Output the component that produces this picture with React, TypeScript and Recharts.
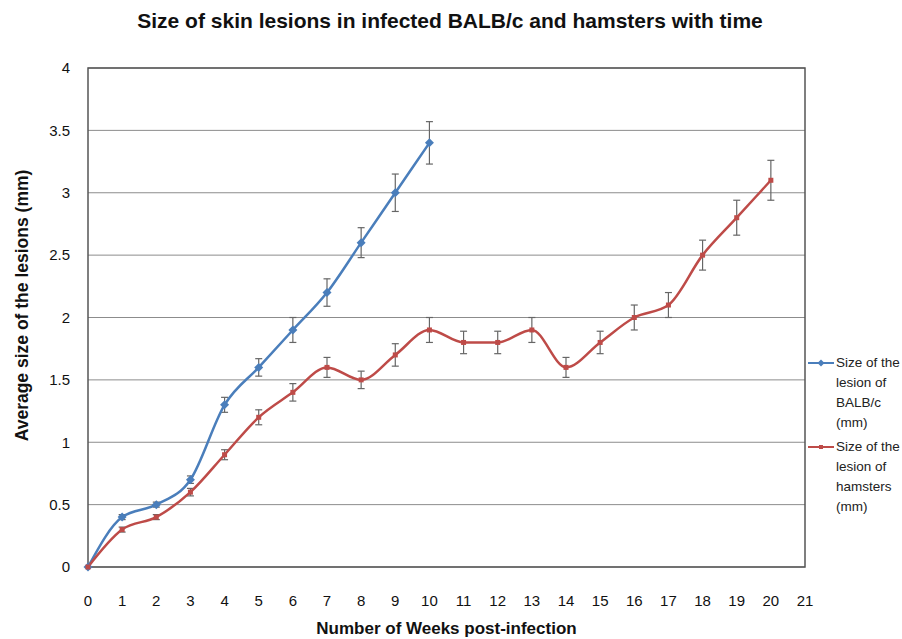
import {
  LineChart,
  Line,
  XAxis,
  YAxis,
  CartesianGrid,
  ErrorBar,
  Legend,
  ReferenceArea,
  Label,
} from "recharts";

const WEEKS = [0, 1, 2, 3, 4, 5, 6, 7, 8, 9, 10, 11, 12, 13, 14, 15, 16, 17, 18, 19, 20];
const BALB = [0, 0.4, 0.5, 0.7, 1.3, 1.6, 1.9, 2.2, 2.6, 3.0, 3.4];
const BALB_ERR = [0, 0.02, 0.02, 0.03, 0.06, 0.07, 0.1, 0.11, 0.12, 0.15, 0.17];
const HAMSTER = [0, 0.3, 0.4, 0.6, 0.9, 1.2, 1.4, 1.6, 1.5, 1.7, 1.9, 1.8, 1.8, 1.9, 1.6, 1.8, 2.0, 2.1, 2.5, 2.8, 3.1];
const HAMSTER_ERR = [0, 0.02, 0.02, 0.03, 0.04, 0.06, 0.07, 0.08, 0.07, 0.09, 0.1, 0.09, 0.09, 0.1, 0.08, 0.09, 0.1, 0.1, 0.12, 0.14, 0.16];
const X_TICKS = [0, 1, 2, 3, 4, 5, 6, 7, 8, 9, 10, 11, 12, 13, 14, 15, 16, 17, 18, 19, 20, 21];
const Y_TICKS = [0, 0.5, 1, 1.5, 2, 2.5, 3, 3.5, 4];

const BLUE = "#4a7ebb";
const RED = "#be4b48";
const FONT = "'Liberation Sans', Arial, sans-serif";

const SERIES = [
  { key: "balb", name: "Size of the lesion of BALB/c (mm)", color: BLUE, shape: "diamond" },
  { key: "hamster", name: "Size of the lesion of hamsters (mm)", color: RED, shape: "square" },
];

const data = WEEKS.map((w, i) => ({
  week: w,
  balb: i < BALB.length ? BALB[i] : null,
  balbErr: i < BALB_ERR.length ? BALB_ERR[i] : null,
  hamster: HAMSTER[i],
  hamsterErr: HAMSTER_ERR[i],
}));

function Diamond(props: any) {
  const { cx, cy } = props;
  const r = 4.5;
  if (cx == null || cy == null || Number.isNaN(cy)) return <g key={props.key} />;
  return (
    <path
      key={props.key}
      d={`M${cx} ${cy - r}L${cx + r} ${cy}L${cx} ${cy + r}L${cx - r} ${cy}Z`}
      fill={BLUE}
    />
  );
}

function Square(props: any) {
  const { cx, cy } = props;
  const s = 2.5;
  if (cx == null || cy == null || Number.isNaN(cy)) return <g key={props.key} />;
  return <rect key={props.key} x={cx - s} y={cy - s} width={s * 2} height={s * 2} fill={RED} />;
}

function LegendBox() {
  return (
    <div style={{ fontFamily: FONT, fontSize: 13.5, color: "#222" }}>
      {SERIES.map((s) => (
        <div key={s.key} style={{ display: "flex", alignItems: "flex-start", lineHeight: "20px", marginBottom: 4 }}>
          <svg width={30} height={20} style={{ flex: "none" }}>
            <line x1={2} y1={10} x2={28} y2={10} stroke={s.color} strokeWidth={2} />
            {s.shape === "diamond" ? (
              <path d="M15 6.5L18.5 10L15 13.5L11.5 10Z" fill={s.color} />
            ) : (
              <rect x={13} y={8} width={4} height={4} fill={s.color} />
            )}
          </svg>
          <div style={{ width: 70 }}>{s.name}</div>
        </div>
      ))}
    </div>
  );
}

export default function App() {
  return (
    <div style={{ position: "absolute", left: 0, top: 0, width: 902, height: 639, background: "#fff" }}>
      <div
        style={{
          position: "absolute",
          top: 9,
          left: 0,
          width: 900,
          textAlign: "center",
          fontFamily: FONT,
          fontWeight: "bold",
          fontSize: 21,
          color: "#111",
        }}
      >
        Size of skin lesions in infected BALB/c and hamsters with time
      </div>
      <LineChart
        width={902}
        height={639}
        data={data}
        margin={{ top: 68, right: 97, bottom: 0, left: 0 }}
      >
        <CartesianGrid vertical={false} stroke="#8c8c8c" strokeWidth={1} />
        <ReferenceArea x1={0} x2={21} y1={0} y2={4} fill="none" stroke="#555" strokeWidth={1.5} fillOpacity={0} />
        <XAxis
          dataKey="week"
          type="number"
          domain={[0, 21]}
          ticks={X_TICKS}
          interval={0}
          height={72}
          tickLine={false}
          axisLine={false}
          tickSize={0}
          tickMargin={28}
          tick={{ fontSize: 15, fill: "#111", fontFamily: FONT }}
        >
          <Label
            value="Number of Weeks post-infection"
            position="insideBottom"
            offset={5}
            style={{ fontSize: 17, fontWeight: "bold", fill: "#111", fontFamily: FONT }}
          />
        </XAxis>
        <YAxis
          domain={[0, 4]}
          ticks={Y_TICKS}
          width={88}
          tickLine={false}
          axisLine={false}
          tickSize={0}
          tickMargin={18}
          tick={{ fontSize: 15, fill: "#111", fontFamily: FONT }}
        >
          <Label
            content={(p: any) => {
              const vb = p.viewBox || { x: 0, y: 68, height: 499 };
              const cx = 22;
              const cy = vb.y + vb.height / 2 - 12;
              return (
                <text
                  x={cx}
                  y={cy}
                  transform={`rotate(-90 ${cx} ${cy})`}
                  textAnchor="middle"
                  dominantBaseline="central"
                  style={{ fontSize: 17.5, fontWeight: "bold", fill: "#111", fontFamily: FONT }}
                >
                  Average size of the lesions (mm)
                </text>
              );
            }}
          />
        </YAxis>
        <Legend
          layout="vertical"
          align="center"
          verticalAlign="middle"
          content={() => <LegendBox />}
          wrapperStyle={{ left: 806, top: 353, width: 96 }}
        />
        <Line
          dataKey="balb"
          name={SERIES[0].name}
          type="monotone"
          stroke={BLUE}
          strokeWidth={2.5}
          dot={Diamond}
          activeDot={false}
          isAnimationActive={false}
        >
          <ErrorBar dataKey="balbErr" direction="y" width={3.5} stroke="#666" strokeWidth={1.2} />
        </Line>
        <Line
          dataKey="hamster"
          name={SERIES[1].name}
          type="monotone"
          stroke={RED}
          strokeWidth={2.5}
          dot={Square}
          activeDot={false}
          isAnimationActive={false}
        >
          <ErrorBar dataKey="hamsterErr" direction="y" width={3.5} stroke="#666" strokeWidth={1.2} />
        </Line>
      </LineChart>
    </div>
  );
}
